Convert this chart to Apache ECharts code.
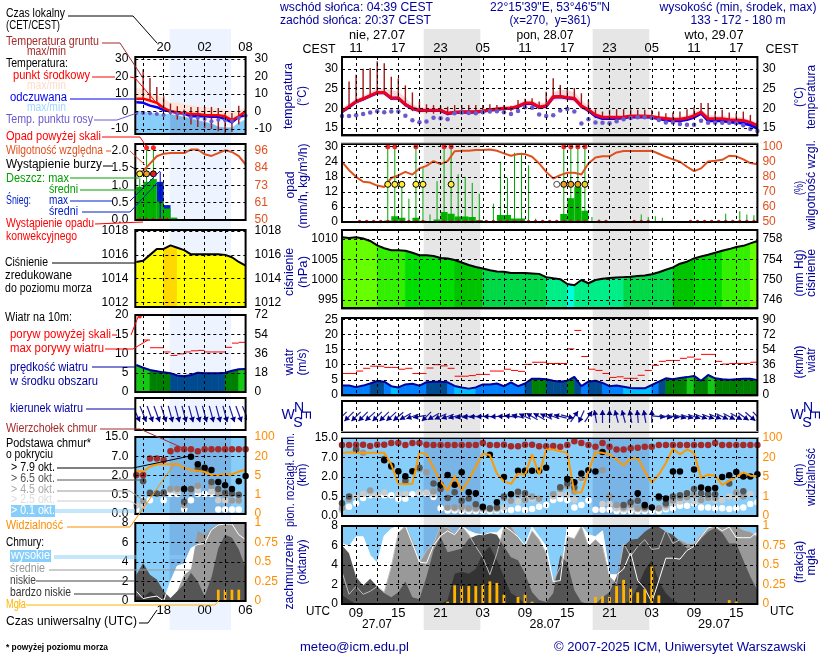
<!DOCTYPE html>
<html lang="pl">
<head>
<meta charset="UTF-8">
<title>Meteogram ICM</title>
<script src="https://cdn.jsdelivr.net/npm/echarts@6/dist/echarts.min.js"></script>
<style>html,body{margin:0;padding:0;background:#fff}#main{width:820px;height:660px}</style>
</head>
<body>
<div id="main"></div>
<script>
// ---- main meteogram, hourly, index 0 = 27.07 07 UTC ----
var tempC = [19.2,20.4,21.7,22.4,23.2,24,24,22.6,22.6,21, 20,19.5,19.5,19.5,19.5,18.7,19,19.1,19.1,19.1, 19.3,19.6,19.8,20,20,20.5,21.3,21.3,20.3,20.6, 22.9,23,22.7,22.5,20.6,19.6,18.3,17.7,17.7,17.7, 17.8,18,18,18,17.9,17.6,17.4,17.2,17.2,17.5, 18.1,19,17.3,17.3,17.3,17.1,17,16.9,16.4,15.6];
var tempMax = [20.2,21.2,22.4,23.1,24,25,25,24.5,24.2,22.6, 20.9,20.3,20.1,20,20,19.6,19.5,19.4,19.4,19.4, 19.6,19.9,20.2,20.4,20.5,21.1,21.9,21.9,21.2,21.5, 24,24.7,24.5,24,22,20.6,19,18.2,18,18, 18.1,18.4,18.4,18.3,18.2,18,17.8,17.7,17.8,18.2, 18.9,19.7,18.2,18,18,17.8,17.7,17.6,17,16.2];
var tempMin = [18.7,19.8,21,21.8,22.7,23.4,23.3,22,21.9,20.3, 19.2,18.9,19,19,19,18.3,18.6,18.8,18.8,18.8, 19,19.2,19.4,19.6,19.6,20,20.7,20.6,19.7,19.9, 21.9,22.2,21.9,21.7,19.8,19,17.8,17.3,17.3,17.3, 17.4,17.6,17.6,17.6,17.5,17.2,16.9,16.7,16.7,16.9, 17.4,18.3,16.7,16.7,16.7,16.5,16.4,16.3,15.8,15];
var feelsC = [19.1,20.3,21.6,22.3,23.1,23.9,23.9,22.5,22.5,20.9, 19.9,19.4,19.4,19.4,19.4,18.6,18.9,19,19,19, 19.2,19.5,19.7,19.9,19.9,20.4,21.2,21.2,20.2,20.5, 22.8,22.9,22.6,22.4,20.5,19.4,18,17.4,17.4,17.4, 17.6,17.8,17.8,17.8,17.7,17.3,17,16.8,16.8,17.1, 17.7,18.7,16.8,16.8,16.8,16.5,16.4,16.2,15.7,14.9];
var dewC = [18.05,18.05,18.2,18.5,18.9,19.2,19,19.15,19.15,18.1, 16.95,16.45,16.6,17.55,17.45,17.2,18.7,18.9,18.8,18.7, 19,19.15,19.2,19,18.55,19.3,20.25,20.1,18.4,18, 18.2,19.4,19.8,19.15,16.1,17.2,16.4,16.3,16.2,16.7, 17.2,17.5,17.7,17.7,17.5,17,16.4,16.4,16,15.8, 15.8,16.8,16.3,16.3,16.3,16.3,16.2,15.7,14.7,14.2];
var groundMax = [null,26.8,28.5,30,30.2,31.9,31.4,28,27.6,25.8, 24,21.7,21,20.8,20.6,20.4,20.8,20.8,20.8,20.8, 20.8,21,20.8,20.8,20.6,22.1,22.4,22.5,21.7,24.2, 27.6,25.9,25.1,25.1,23.8,22.1,19.7,19.15,19.6,19.75, 19.75,19.75,19.6,19.6,19.6,19.15,18.7,18.9,19.15,19.75, 20.25,21.3,21.3,19.15,19.6,18.9,18.7,19.15,18.3,16.6];
var groundMin = [null,20,21.3,22,22.8,23.6,23.6,22.2,22.2,20.5, 19.3,18.8,18.7,18.6,18.6,18.2,18.4,18.5,18.5,18.5, 18.5,18.8,19,19.2,19.2,19.8,20.6,20.6,19.8,20, 22.3,22.5,22.2,22,20,18.9,17.5,17,17,17, 17.1,17.3,17.3,17.3,17.2,16.9,16.7,16.6,16.7,17, 17.5,18.4,16.9,16.9,16.9,16.7,16.6,16.5,16,15.3];
var humidity = [90,84.4,80,76.7,76.2,74.2,73.3,79.2,81,83.3, 81.5,85.6,87.3,90.4,88.4,90.4,97,97.3,97.3,97.8, 97.8,98.2,97.3,95.6,94,95.1,95.1,93.3,88.9,83.3, 78.9,81.1,82.7,82.7,81.6,88.9,92.9,93.6,93.6,96.2, 97.1,97.1,97.1,97.1,97.3,95.3,93.3,91.6,90,86.7, 83.8,85.6,90.2,90.7,91.3,94,93.6,91.6,89.1,88.4];
// precipitation is per hour interval, so 59 values
var rainMax = [0,0,0,0,0,0,30,30,14.7,9.3, 30,21.6,3,16.3,30,30,19,18,15.6,11.3, 0,7.3,24,17.6,27.6,27.6,22.6,1.3,0,0, 0,30,30,30,30,2,1,0,0,0, 0,0,3,2,2.3,1.7,0,0,0,0, 0,0,0,0,3.3,.8,4.3,3,2.7];
var rainMean = [0,0,0,0,0,0,.6,2.3,1.7,.3, 1.7,.5,.1,1,4,3.3,2.2,2.2,2,.8, .3,.1,2.8,2.8,1.4,1.4,.2,0,0,0, 0,3.2,9.5,14,4.5,.2,.1,0,0,0, 0,0,.1,.1,.1,.1,0,0,0,0, 0,0,0,0,.4,.4,.4,.2,.1];
var convective = [2,3,4,5,6,7,8,9,10,11,14,15,16,17,18,19,20,21,22,23,24,25,26,27,28,29,30,31,32,33,34,36,37,41,42,43,49,50,51,52,53,54,55,56,57,58];
var stormHours = [6,7,8,10,11,15,30,31,32,33,34];
var stormChance = [1,1,1,1,1,1,0,.6,.6,.6,.8];
var pressure = [1010.4,1010.25,1010.4,1010.1,1009.5,1008.4,1007.7,1007.2,1007.2,1007.1, 1006.6,1006,1006,1005.8,1005.3,1005.2,1004.8,1004.2,1003.6,1003.1, 1002.7,1002.3,1002,1001.9,1001.6,1001.6,1001.6,1001.5,1001.4,1000.6, 1000.3,1000.1,998.9,998.6,999.9,999.1,999.9,1000.2,1000.4,1000.5, 1000.6,1000.7,1000.9,1001,1001.3,1001.8,1002.4,1003,1003.9,1004.4, 1005.2,1005.7,1006.1,1006.6,1007.1,1007.5,1008,1008.3,1008.9,1009.5];
var windSpeed = [3.1,3.1,2.6,3.1,3.8,4.6,4.4,2.9,2.5,3.5, 3.7,3.1,4.2,4.4,4.4,4.2,3,2.5,2.1,2.5, 3.5,3.5,3.8,2.9,4.2,2.9,3.8,5.4,5.4,5.2, 4.7,4.4,4.7,6,2.9,4.4,4.7,4,2.9,3.1, 2.7,2.3,2.2,2.2,3.3,4.4,5.5,5.2,5.6,5.9, 6.3,4.7,6.6,5.5,5.2,5,5.2,5.4,5.4,4.9];
var windGust = [7.1,7.1,7.9,8.8,9.5,9.5,9.1,9.1,8.5,8.8, 7.1,7.1,8.9,10,9.6,8.8,6.2,6.2,6.4,6.8, 6.8,7.9,7.9,8.5,8.1,7.8,10.1,10.8,10.8,10.4, 10.4,10.4,15.2,21.3,12.7,8.5,8.1,7.1,5.8,6, 5.5,5.5,6.5,8.1,9.8,11.1,11.4,11.4,12.1,12.5, 11.8,13.4,13.4,11.1,10.2,10.4,10.4,10.4,10.8];
var windHeading = [225,225,225,225,228,225,225,228,230,240, 250,260,225,240,245,250,255,258,262,265, 268,270,268,272,278,285,295,300,300,295, 290,285,105,35,205,35,350,0,0,345, 345,350,355,350,0,95,100,100,105,105, 108,110,110,112,115,118,120,125,130,135];
var visibility = [38,42,39,39,39,39,39,14.6,3.6,3.5, 3.6,42,33,12,4.1,2.2,6,2.2,4.4,13, 36,30,7.6,4.1,3.6,7.6,6.8,33,6.8,53, 53,46,39,1.8,1.8,9.4,42,39,33,18.5, 13.8,19.5,19.7,9.4,3.8,6.8,15.8,56,33,53, 39,4.8,6.8,6,3.4,4.2,5,8.6,6,5.5];
var cloudTop = [12.1,12.1,12.2,12.2,11.7,12.2,12.2,12.9,12.9,12.1, 12.9,12.9,12.2,12.1,12.1,12.1,12.1,12.1,12.1,12.1, 12.9,12.1,12.1,12.2,11.6,11.6,12.2,12.2,11.6,11.6, 11.7,11.4,12.1,13.7,12.9,12.1,11.4,12.9,11.4,10.3, 10.3,10.8,11,11.4,11.4,12.1,12.1,12.1,12.1,12.1, 12.1,12.1,12.1,12.9,12.1,12.1,12.1,12.1,12.1,12.1];
var baseBlack = [[6,6.3],[7,4.9],[8,3.5],[9,2.2],[10,3.5],[14,1.4],[15,2.5],[16,1.4],[17,3.2],[18,.83],[19,.75],[20,.24],[21,8.1],[22,.35],[23,2],[24,.68],[25,3.6],[26,3.6],[27,3.6],[28,3.6],[29,4.4],[32,1.85],[33,1.6],[34,2.9],[35,3.7],[36,3.4],[37,9.3],[42,.75],[43,.28],[44,.22],[45,.5],[46,.45],[47,3.4],[48,3.4],[50,3.9],[51,1.2],[52,1.07],[53,1.15],[54,2],[55,2.45],[56,3.3],[57,2.15],[58,2.15],[59,2.7]];
var baseDark = [[0,.33],[1,.5],[2,10.3],[6,6.6],[7,4.6],[9,1.7],[11,4.35],[13,1.5],[14,1.07],[15,.46],[16,.83],[17,.39],[18,.45],[19,.3],[20,.22],[21,.2],[22,.22],[23,.5],[25,.86],[26,.75],[31,1.22],[32,1.5],[33,1.22],[40,.28],[41,.35],[42,.39],[43,.24],[45,.46],[46,.33],[47,.5],[48,.6],[49,.75],[50,1.07],[51,.75],[52,.68],[53,.68],[55,1.5],[57,.9]];
var baseGray = [[0,.2],[1,.43],[2,10],[3,8.9],[4,.97],[6,6.6],[9,1.85],[11,4],[12,3.2],[13,.89],[15,.22],[16,.22],[17,.23],[18,.2],[19,.2],[20,.2],[21,.18],[22,.2],[23,.46],[24,.39],[25,.63],[26,.41],[27,.5],[28,.44],[30,.68],[31,1.07],[32,1.3],[33,.89],[34,1.92],[37,3.7],[38,.5],[39,.28],[40,.22],[41,.28],[42,.2],[43,.2],[45,.2],[46,.28],[47,.4],[48,.46],[49,.48],[50,.63],[51,.41],[52,.46],[53,.46],[56,.8],[57,.5]];
var baseLight = [[0,.15],[2,.5],[3,.7],[4,.75],[5,.63],[6,.8],[8,.7],[9,.7],[11,.8],[12,.8],[13,.63],[15,.22],[16,.19],[17,.18],[18,.17],[19,.17],[20,.17],[21,.17],[22,.17],[23,.22],[24,.39],[25,.37],[26,.46],[27,.43],[28,.43],[30,.5],[31,.68],[32,.63],[33,.41],[34,1.85],[37,.31],[38,.31],[39,.2],[40,.17],[41,.2],[42,.17],[43,.17],[45,.2],[46,.22],[47,.33],[48,.37],[49,.44],[50,.37],[51,.4],[52,.44],[53,.41],[54,.41],[55,.5],[56,.46],[58,.7]];
var baseWhite = [[1,.24],[2,.33],[3,.46],[4,.6],[5,.6],[6,.6],[7,.6],[8,.44],[9,.44],[10,.68],[11,.75],[12,.75],[13,.49],[14,.2],[15,.14],[16,.14],[17,.13],[18,.13],[19,.13],[20,.14],[21,.13],[22,.14],[23,.155],[24,.155],[25,.19],[26,.155],[27,.18],[28,.24],[29,.28],[30,.41],[31,.44],[32,.41],[33,.22],[34,.28],[35,.4],[36,.16],[37,.16],[38,.16],[39,.13],[40,.13],[41,.13],[42,.13],[43,.13],[44,.13],[45,.13],[46,.17],[47,.2],[48,.26],[49,.26],[50,.33],[51,.22],[52,.22],[53,.2],[54,.2],[55,.18],[56,.2],[57,.22],[58,.31],[59,.35]];
var coverHigh = [6.2,5.9,6.9,6.9,5,4.2,7,7.7,8,8, 6.2,4.3,4.2,6,7,7.5,7.1,8,7.5,7.2, 7.1,7.3,7.3,8,7.5,6.9,6,7.9,6.9,5.9, 2.3,2.4,7.9,8,8,7.1,6.9,7.5,3,3, 3.6,5.3,2.4,1.6,.2,2.4,4.7,4.7,4.6,5.5, 5.9,6.9,7.8,8,7.5,7.9,6.8,6.8,6.8,7.4];
var coverMid = [3.3,1,1.8,1,1.3,1.8,1.2,3.8,7.3,8, 6.6,4.2,5.5,6.2,8,7.8,7.3,8,7.1,5.9, 4.8,3,5.2,7.9,8,6.9,6,7.5,6.6,5.2, 2.3,3.8,6.9,6.7,8,5.9,6.6,5.9,2.8,2.1, 6.2,4.9,5.9,6.6,5.6,5.7,7.6,6.2,6.6,6.2, 6.2,7.1,7.8,8,8,8,8,7.6,7.4,6.9];
var coverLow = [6,5.2,2.8,1.9,2.6,1.8,1.1,.7,1.2,2.3, .7,.5,2.8,5.5,6.9,5.3,5.5,5.7,6.7,7, 7.2,7.3,7.1,5.9,4.8,4.5,3.1,1.2,.4,.2, 1.1,5,4.2,1.4,.2,0,0,.7,1.2,2.8, 5.9,6.6,6.7,7.4,7.9,7.9,7.4,7.1,6.4,5.7, 5.9,6.7,7.4,7.8,7.3,6.2,6.2,4.5,2.8,1.4];
var coverVeryLow = [.9,.4,0,0,0,0,0,0,0,0, 0,0,0,0,0,.4,3.1,3.3,3.1,3.6, 5.2,5.9,4.5,2.8,1.1,.7,0,0,0,0, 0,0,0,0,0,0,0,0,0,0, 0,.4,1.8,3.5,4.5,2.3,1.1,.4,0,0, 0,0,0,0,0,0,0,0,0,0];
var fog = [[15,.03],[16,.24],[17,.23],[18,.23],[19,.23],[20,.25],[21,.29],[22,.27],[23,.12],[25,.09],[26,.12],[27,.03],[36,.09],[37,.1],[38,.09],[39,.23],[40,.31],[41,.2],[42,.15],[43,.19],[44,.48],[45,.11],[55,.05],[56,.03]];

// ---- small legend meteogram, hourly, index 0 = 26.07 14 UTC ----
var lTemp = [7.2,7.2,6.1,4.8,1.9,0,-.6,-1,-1.5,-1.5,-2.1,-2.3,-2.3,-2.9,-5.1,-2.9,0];
var lFeels = [5.1,4.8,3.2,2.3,.6,0,-1,-1.3,-2.9,-2.9,-2.9,-3.2,-3.2,-4.4,-6.3,-3.2,-2.3];
var lTempMax = [13.3,12.4,10.5,9.1,7.2,4.8,4.8,4.2,3.2,2.9,2.3,1.7,1.5,1,0,.4,1.9];
var lTempMin = [5,4.8,3.2,2.3,.6,-.5,-1,-1.3,-2.9,-2.9,-2.9,-3.2,-3.2,-4.4,-6.3,-3.2,-2.3];
var lFeelsMax = [0,-.3,-1,-1.5,-1.8,-1.9,-2.5,-3.4,-4.4,-5.3,-6.3,-7.2,-9,-9.5,-9.5,-6.7,-4.8];
var lDew = [-1,-1,-1.2,-1.5,-2.1,-.6,-1.5,-1.5,-3.4,-3.8,-4.4,-5.7,-4.8,-5.1,-5.5,-3.8,-2.5];
var lGroundMax = [null,23.8,19,13.9,8.6,4.4,2.9,1,2.5,2.5,2.5,2.5,1.9,-1,-1,3.2,null];
var lGroundMin = [null,6.7,5.7,4.4,1.9,-1.9,-4.8,-4.4,-7.6,-9,-9.5,-10.1,-11.4,-12.4,-11.8,-7.6,null];
var lHumidity = [80.8,82.6,87.4,92.3,94,94.4,94.4,94.4,96.7,96.7,93.6,92.5,94.4,96.2,95.1,92.3,86.8];
var lRainMean = [.96,1.1,1.18,.53,.33,.07];
var lRainMax = [1.2,2.15,2.15];
var lSnowTop = [0,0,0,1.1,.43,0];
var lSnowMax = 1.39;
var lPressure = [1015.4,1015.5,1016,1016.5,1016.5,1016.8,1016.6,1016.4,1016.05,1016.05,1016.05,1016.05,1016.05,1016,1015.8,1015.4,1015.1];
var lWind = [7,6.3,5.7,5.4,5.1,4.9,4.3,4.1,4.4,5,4.9,4.9,4.9,5,5.5,5.9,6];
var lGust = [null,13.5,11.5,11.5,10.4,9.5,9.9,10.4,10.7,10.8,10.4,10.4,10.4,11.6,12.7,12.9];
var lHeading = [155,158,160,160,162,165,165,165,165,165,165,165,165,165,162,160,158];
var lVisibility = [8.3,8.3,11.8,13.8,13.8,13.8,13.8,11,9.2,8.6,7.9,5.3,5.3,6,6,7.9,9.7];
var lCloudTop = [2.1,2.1,6.4,6.4,6,9.1,9.9,9.9,9.9,9.1,9.9,9.9,9.9,9.9,9.9,9.9,9.9];
var lBlack = [[7,.94],[8,6.9],[9,4.9],[10,4],[11,3.4],[12,1.5],[13,1.25],[14,.94],[15,1.56],[16,1.97]];
var lDark = [[1,1.56],[2,.65],[3,.6],[4,.68],[7,.32],[8,.94],[9,3.8],[10,3.4],[11,1.5],[12,.94],[13,.65],[14,.6],[15,.5]];
var lGray = [[1,.34],[2,.6],[3,.58],[4,.58],[5,.94],[6,.94],[7,.23],[8,.85],[9,1.2],[11,1.2],[12,.6],[13,.5],[14,.35],[15,.35]];
var lLight = [[0,.22],[1,.23],[5,.85],[6,.75],[9,.85],[11,.75],[12,.36],[13,.35],[14,.35],[15,.36]];
var lWhite = [[0,.12],[1,.36],[2,.36],[4,.36],[5,.55],[6,.55],[7,.13],[8,.36],[9,.55],[10,.55],[11,.55],[12,.12],[13,.12],[14,.12],[15,.12]];
var lHigh = [1,.25,.4,.5,0,2,3.6,3.8,5.4,5.8,5.9,7.3,7.8,7.9,7.9,6.8,6.3];
var lMid = [0,0,0,0,0,0,1,2.7,3.2,7.2,6.8,7.5,7.9,8,8,8,8];
var lLow = [2.7,3.9,2.7,2.2,1,.3,1,1.7,2.9,2,.5,2.4,5.4,6.8,6.5,5.3,3.4];
var lVeryLow = [.5,.3,1,.5,0,0,0,0,0,0,0,0,0,0,0,0,0];
var lFog = [[12,.145],[13,.145],[14,.145],[15,.145]];

// axis ticks
var heightTicks = [0,.5,2,7,15];
var visTicks = [0,1,5,20,100];
var fogTicks = ['0','0.25','0.5','0.75','1'];
var nightMain = [[11.6,19.65],[35.6,43.65]];
var nightSide = [[18.87,27.87]];

var FONT = '12px "Liberation Sans", Arial, sans-serif';
var NAVY = '#00009c', OR = '#e0501e', VIS = '#ff8c00', SKY = '#87cefa', SKY2 = '#78b4e6';

var grids = [], xAxes = [], yAxes = [], series = [], gfx = [];
var measure = document.createElement('canvas').getContext('2d');

// band index on the 5 tick quasi-log scale
function toBand(v, ticks) {
    for (var k = 0; k < 4; k++) {
        if (v <= ticks[k + 1]) return k + (v - ticks[k]) / (ticks[k + 1] - ticks[k]);
    }
    return 4;
}
function pad(n) { return (n < 10 ? '0' : '') + n; }
function yAx(gi, c, right) {
    var o = {
        gridIndex: gi, type: 'value', position: right ? 'right' : 'left', silent: true, z: 25,
        min: c.min, max: c.max,
        axisLine: {show: false},
        axisTick: {show: false, customValues: c.ticks},
        splitLine: {show: !right && !!c.ticks, lineStyle: {color: '#000', type: [3, 3], width: 1}},
        axisLabel: {show: !!c.ticks, customValues: c.ticks, color: c.color || '#000', fontSize: 12, fontFamily: 'Liberation Sans',
            margin: c.margin, formatter: c.fmt}
    };
    yAxes.push(o);
    return yAxes.length - 1;
}
function panel(side, top, bottom, yl, yr, xl) {
    var gi = grids.length;
    grids.push({show: true, left: side.left, width: side.width, top: top, height: bottom - top, backgroundColor: 'transparent', borderColor: '#000', borderWidth: 2, z: 30});
    xAxes.push({
        gridIndex: gi, type: 'value', min: side.min, max: side.max, silent: true, z: 25,
        position: xl ? xl.pos : 'bottom',
        axisLine: {show: false, onZero: false},
        axisTick: {show: false, customValues: side.splits},
        splitLine: {show: true, lineStyle: {color: '#000', type: [3, 3], width: 1}},
        axisLabel: xl ? {show: true, customValues: side.labels, color: '#000', fontSize: 13, fontFamily: 'Liberation Sans', margin: xl.margin, formatter: xl.fmt} : {show: false}
    });
    yl = yl || {min: 0, max: 1};
    yr = yr || {min: yl.min, max: yl.max};
    return {x: xAxes.length - 1, y: yAx(gi, Object.assign({margin: side.ml}, yl), false), r: yAx(gi, Object.assign({margin: side.mr}, yr), true)};
}
function base(p, right, z) {
    return {xAxisIndex: p.x, yAxisIndex: right ? p.r : p.y, z: z, silent: true, animation: false};
}
function addLine(p, data, color, w, z, right) {
    series.push(Object.assign(base(p, right, z), {type: 'line', data: data, symbol: 'none', lineStyle: {color: color, width: w}}));
}
function addArea(p, data, color, z) {
    series.push(Object.assign(base(p, false, z), {type: 'line', data: data, symbol: 'none', lineStyle: {width: 0}, areaStyle: {color: color, opacity: 1, origin: 'start'}}));
}
function addDots(p, data, color, size, z, right, border) {
    series.push(Object.assign(base(p, right, z), {type: 'scatter', data: data, symbol: 'circle', symbolSize: size, itemStyle: {color: color, borderColor: border || color, borderWidth: border ? 1 : 0, opacity: 1}}));
}
function addCustom(p, data, fn, z, right) {
    series.push(Object.assign(base(p, right, z), {type: 'custom', data: data, clip: true, renderItem: fn}));
}
// filled rectangle between two x values and the whole height of the panel
function fullRect(color) {
    return function (params, api) {
        var cs = params.coordSys;
        var a = api.coord([api.value(0), 0])[0], b = api.coord([api.value(1), 0])[0];
        return {type: 'rect', shape: {x: a, y: cs.y, width: b - a, height: cs.height}, style: {fill: color}};
    };
}
function wholePanel(color) {
    return function (params) {
        var cs = params.coordSys;
        return {type: 'rect', shape: {x: cs.x, y: cs.y, width: cs.width, height: cs.height}, style: {fill: color}};
    };
}
// vertical stroke: [x, lo, hi]
function vStroke(color, w) {
    return function (params, api) {
        var a = api.coord([api.value(0), api.value(1)]), b = api.coord([api.value(0), api.value(2)]);
        return {type: 'line', shape: {x1: a[0], y1: a[1], x2: b[0], y2: b[1]}, style: {stroke: color, lineWidth: w}};
    };
}
// horizontal stroke: [x0, x1, y]
function hStroke(color, w) {
    return function (params, api) {
        var a = api.coord([api.value(0), api.value(2)]), b = api.coord([api.value(1), api.value(2)]);
        return {type: 'line', shape: {x1: a[0], y1: a[1], x2: b[0], y2: b[1]}, style: {stroke: color, lineWidth: w}};
    };
}
// bar: [x0, x1, y]
function barRect(color) {
    return function (params, api) {
        var a = api.coord([api.value(0), api.value(2)]), b = api.coord([api.value(1), 0]);
        return {type: 'rect', shape: {x: a[0], y: a[1], width: b[0] - a[0], height: b[1] - a[1]}, style: {fill: color}};
    };
}
// polygon down to the panel bottom, colored by segment: [x, v0, v1]
function segFill(pal) {
    return function (params, api) {
        var x = api.value(0), cs = params.coordSys, v0 = api.value(1), v1 = api.value(2);
        var a = api.coord([x, v0]), b = api.coord([x + 1, v1]), bot = cs.y + cs.height;
        var c = pal((v0 + v1) / 2, x);
        return {type: 'polygon', shape: {points: [[a[0], bot], a, b, [b[0], bot]]}, style: {fill: c, stroke: c, lineWidth: .7}};
    };
}
// band between two curves: [x, hi0, lo0, hi1, lo1]
function bandFill(color) {
    return function (params, api) {
        var x = api.value(0);
        var p = [api.coord([x, api.value(1)]), api.coord([x + 1, api.value(3)]), api.coord([x + 1, api.value(4)]), api.coord([x, api.value(2)])];
        return {type: 'polygon', shape: {points: p}, style: {fill: color, stroke: color, lineWidth: .5}};
    };
}
// wind arrow: [x, heading]
function arrow(len) {
    return function (params, api) {
        var h = api.value(1) * Math.PI / 180, c = api.coord([api.value(0), .5]);
        var dx = Math.sin(h), dy = -Math.cos(h);
        var t = [c[0] - dx * len / 2, c[1] - dy * len / 2], e = [c[0] + dx * len / 2, c[1] + dy * len / 2];
        var s = 5, n = 3;
        return {type: 'group', children: [
            {type: 'line', shape: {x1: t[0], y1: t[1], x2: e[0], y2: e[1]}, style: {stroke: '#1c1ca0', lineWidth: 1.2}},
            {type: 'polygon', shape: {points: [e, [e[0] - dx * s - dy * n, e[1] - dy * s + dx * n], [e[0] - dx * s + dy * n, e[1] - dy * s - dx * n]]}, style: {fill: '#00008b', stroke: null}}
        ]};
    };
}
function xy(arr, x0) { return arr.map(function (v, i) { return [x0 + i, v]; }); }
function segs(arr, x0) {
    var r = [];
    for (var i = 0; i < arr.length - 1; i++) r.push([x0 + i, arr[i], arr[i + 1]]);
    return r;
}
function bands(hi, lo, x0) {
    var r = [];
    for (var i = 0; i < hi.length - 1; i++) r.push([x0 + i, hi[i], lo[i], hi[i + 1], lo[i + 1]]);
    return r;
}
function pairs(list, x0, ticks) {
    return list.map(function (d) { return [x0 + d[0], toBand(d[1], ticks)]; });
}
function palPressure(v) {
    if (v >= 1008.7) return '#66ff00';
    if (v >= 1006.9) return '#33f000';
    if (v >= 1005) return '#00dd00';
    if (v >= 1002.9) return '#00c400';
    if (v >= 1000.65) return '#00d848';
    if (v >= 999) return '#00ee88';
    return '#00ffe0';
}
function palWind(v) {
    if (v < 2.8) return '#00bfff';
    if (v < 4.1) return '#0080ff';
    if (v < 5) return '#004a90';
    if (v < 5.9) return '#008000';
    return '#14c814';
}
function stormColor(c) { return c >= 1 ? '#ffee33' : (c >= .8 ? '#f0d020' : (c > 0 ? '#f0a020' : '#ffffff')); }

// ---- layout ----
var sideMain = {left: 342, width: 415.4, min: 0, max: 59, ml: 4, mr: 5, splits: [2,5,8,11,14,17,20,23,26,29,32,35,38,41,44,47,50,53,56], labels: [2,8,14,20,26,32,38,44,50,56]};
var sideSmall = {left: 135.3, width: 110.3, min: 13.85, max: 30, ml: 7, mr: 9, splits: [15,18,21,24,27], labels: [18,24,30]};

// night backdrop, behind everything
function backdrop(side, nights, color) {
    var gi = grids.length;
    grids.push({show: false, left: side.left, width: side.width, top: 29, height: 601});
    xAxes.push({gridIndex: gi, type: 'value', min: side.min, max: side.max, show: false});
    yAxes.push({gridIndex: gi, type: 'value', min: 0, max: 1, show: false});
    series.push({type: 'custom', xAxisIndex: xAxes.length - 1, yAxisIndex: yAxes.length - 1, z: 0, silent: true, animation: false, data: nights, renderItem: fullRect(color)});
}
backdrop(sideMain, nightMain, '#e6e6e6');
backdrop(sideSmall, nightSide, '#eef4ff');

// ---- main panels ----
function numFmt(v) { return String(v); }
var mTemp = panel(sideMain, 57, 135, {min: 13.2, max: 33, ticks: [15,20,25,30], fmt: numFmt}, {min: 13.2, max: 33, ticks: [15,20,25,30], fmt: numFmt},
    {pos: 'top', margin: 2, fmt: function (v) { return pad((7 + v + 2) % 24); }});
addCustom(mTemp, bands(tempMax, tempMin, 0), bandFill('#f8d8dc'), 2);
addCustom(mTemp, groundMax.map(function (v, i) { return [i, groundMin[i], v]; }).filter(function (d) { return d[2] != null; }), vStroke('#a01818', 1.4), 3);
addLine(mTemp, xy(feelsC, 0), '#0000ff', 3, 4);
addLine(mTemp, xy(tempC, 0), '#f00020', 3, 5);
addDots(mTemp, xy(dewC, 0), '#6a5acd', 4.5, 6);

var mRain = panel(sideMain, 144, 222, {min: 0, max: 31.08, ticks: [0,6,12,18,24,30], fmt: numFmt}, {min: 50, max: 101.8, ticks: [50,60,70,80,90,100], fmt: numFmt, color: OR});
addCustom(mRain, rainMean.map(function (v, i) { return [i, i + 1, v]; }).filter(function (d) { return d[2] > 0; }), barRect('#00b400'), 2);
addCustom(mRain, rainMax.map(function (v, i) { return [i + .5, 0, v]; }).filter(function (d) { return d[2] > 0; }), vStroke('#00a800', 1), 3);
addDots(mRain, rainMax.map(function (v, i) { return [i + .5, v]; }).filter(function (d) { return d[1] >= 30; }), '#ff2020', 5, 6);
addDots(mRain, convective.map(function (i) { return [i + .5, 0.2]; }), '#e01010', 3.5, 4);
addLine(mRain, xy(humidity, 0), OR, 2, 5, true);
stormHours.forEach(function (h, k) {
    addDots(mRain, [[h + .5, 15]], stormColor(stormChance[k]), 6, 7, false, stormChance[k] > 0 ? '#000' : '#444');
});

var mPress = panel(sideMain, 230, 308, {min: 993, max: 1012.2, ticks: [995,1000,1005,1010], fmt: numFmt}, {min: 744.43, max: 759.77, ticks: [746,750,754,758], fmt: numFmt});
addCustom(mPress, segs(pressure, 0), segFill(palPressure), 2);
addLine(mPress, xy(pressure, 0), '#000', 2, 3);

var mWind = panel(sideMain, 318, 395, {min: 0, max: 25.4, ticks: [0,5,10,15,20,25], fmt: numFmt}, {min: 0, max: 91.44, ticks: [0,18,36,54,72,90], fmt: numFmt});
addCustom(mWind, segs(windSpeed, 0), segFill(palWind), 2);
addLine(mWind, xy(windSpeed, 0), '#0000a0', 2, 3);
addCustom(mWind, windGust.map(function (v, i) { return [i, i + 1, v]; }), hStroke('#ff0000', 1), 4);

var mDir = panel(sideMain, 401, 432);
addCustom(mDir, xy(windHeading, 0), arrow(13), 3);

var mBase = panel(sideMain, 438, 516, {min: 0, max: 4, ticks: [0,1,2,3,4], fmt: function (v) { return heightTicks[v].toFixed(1); }},
    {min: 0, max: 4, ticks: [0,1,2,3,4], color: VIS, fmt: function (v) { return String(visTicks[v]); }});
addCustom(mBase, [0], wholePanel(SKY), 1);
addCustom(mBase, nightMain, fullRect(SKY2), 1);
addDots(mBase, pairs(baseWhite, 0, heightTicks), '#ffffff', 6.5, 3);
addDots(mBase, pairs(baseLight, 0, heightTicks), '#cccccc', 6.5, 4);
addDots(mBase, pairs(baseGray, 0, heightTicks), '#999999', 6.5, 5);
addDots(mBase, pairs(baseDark, 0, heightTicks), '#555555', 6.5, 6);
addDots(mBase, pairs(baseBlack, 0, heightTicks), '#000000', 6.5, 7);
addDots(mBase, xy(cloudTop.map(function (v) { return toBand(v, heightTicks); }), 0), '#a52a2a', 6.5, 8);
addLine(mBase, xy(visibility.map(function (v) { return toBand(v, visTicks); }), 0), '#ff9900', 2, 9);

var mCover = panel(sideMain, 526, 604, {min: 0, max: 8, ticks: [0,2,4,6,8], fmt: numFmt},
    {min: 0, max: 1, ticks: [0,.25,.5,.75,1], color: VIS, fmt: function (v) { return fogTicks[v * 4]; }},
    {pos: 'bottom', margin: 3, fmt: function (v) { return pad((7 + v) % 24); }});
addCustom(mCover, [0], wholePanel(SKY), 1);
addCustom(mCover, nightMain, fullRect(SKY2), 1);
addArea(mCover, xy(coverHigh, 0), '#ffffff', 2);
addArea(mCover, xy(coverMid, 0), '#999999', 3);
addArea(mCover, xy(coverLow, 0), '#555555', 4);
addArea(mCover, xy(coverVeryLow, 0), '#333333', 5);
addLine(mCover, xy(coverMid, 0), '#bbbbbb', 1, 6);
addLine(mCover, xy(coverHigh, 0), '#ffffff', 1, 7);
addCustom(mCover, fog.map(function (d) { return [d[0] - .2, d[0] + .2, d[1]]; }), barRect('#ffb400'), 8, true);

// ---- legend panels ----
var sTemp = panel(sideSmall, 57, 134, {min: -13, max: 31, ticks: [-10,0,10,20,30], fmt: numFmt}, {min: -13, max: 31, ticks: [-10,0,10,20,30], fmt: numFmt},
    {pos: 'top', margin: 3, fmt: function (v) { return pad((v + 2) % 24); }});
addCustom(sTemp, segs(lFeelsMax, 14), segFill(function (v, x) { return x >= 19 && x < 28 ? SKY2 : SKY; }), 2);
addCustom(sTemp, bands(lTempMax, lTempMin, 14), bandFill('#ffe4d8'), 3);
addCustom(sTemp, lGroundMax.map(function (v, i) { return [14 + i, lGroundMin[i], v]; }).filter(function (d) { return d[2] != null; }), vStroke('#a01818', 1.4), 4);
addLine(sTemp, xy(lFeels, 14), '#0000ff', 2.5, 5);
addLine(sTemp, xy(lTemp, 14), '#ff0000', 2.5, 6);
addDots(sTemp, xy(lDew, 14), '#6a5acd', 4, 7);

var sRain = panel(sideSmall, 144, 220, {min: 0, max: 2.19, ticks: [0,.5,1,1.5,2], fmt: function (v) { return v.toFixed(1); }}, {min: 50, max: 100.4, ticks: [50,61.5,73,84.5,96], color: OR, fmt: function (v) { return String(Math.floor(v)); }});
addCustom(sRain, lSnowTop.map(function (v, i) { return [14 + i, 15 + i, v]; }).filter(function (d) { return d[2] > 0; }), barRect('#0020c8'), 2);
addCustom(sRain, lRainMean.map(function (v, i) { return [14 + i, 15 + i, v]; }), barRect('#00b400'), 3);
addCustom(sRain, lRainMax.map(function (v, i) { return [14.5 + i, 0, v]; }), vStroke('#00a800', 1), 4);
addCustom(sRain, [[17.5, 0, lSnowMax]], vStroke('#0000e0', 1), 4);
addDots(sRain, [[15.5, 2.08], [16.5, 2.08]], '#ff2020', 5, 6);
addDots(sRain, [[14.5, .03], [15.5, .03], [16.5, .03], [17.5, .03], [18.5, .03]], '#e01010', 3, 5);
addLine(sRain, xy(lHumidity, 14), OR, 2, 5, true);
addDots(sRain, [[14.5, 1.33]], '#ffee33', 6, 7, false, '#000');
addDots(sRain, [[15.5, 1.33]], '#f0a020', 6, 7, false, '#000');
addDots(sRain, [[16.5, 1.33]], '#e02010', 6, 7, false, '#000');

var sPress = panel(sideSmall, 230, 307, {min: 1011.6, max: 1018.1, ticks: [1012,1014,1016,1018], fmt: numFmt}, {min: 1011.6, max: 1018.1, ticks: [1012,1014,1016,1018], fmt: numFmt});
addCustom(sPress, segs(lPressure, 14), segFill(function (v) { return v >= 1016.65 ? '#ffd800' : '#ffff00'; }), 2);
addLine(sPress, xy(lPressure, 14), '#000', 2, 3);

var sWind = panel(sideSmall, 315, 392, {min: 0, max: 20, ticks: [0,5,10,15,20], fmt: numFmt}, {min: 0, max: 72, ticks: [0,18,36,54,72], fmt: numFmt});
addCustom(sWind, segs(lWind, 14), segFill(palWind), 2);
addLine(sWind, xy(lWind, 14), '#0000a0', 2, 3);
addCustom(sWind, lGust.map(function (v, i) { return [14 + i, 15 + i, v]; }).filter(function (d) { return d[2] != null; }), hStroke('#ff0000', 1), 4);
addDots(sWind, [[14.5, 19.6]], '#ff2020', 4, 5);

var sDir = panel(sideSmall, 398, 430);
addCustom(sDir, xy(lHeading, 14), arrow(17), 3);

var sBase = panel(sideSmall, 437, 514, {min: 0, max: 4, ticks: [0,1,2,3,4], fmt: function (v) { return heightTicks[v].toFixed(1); }},
    {min: 0, max: 4, ticks: [0,1,2,3,4], color: VIS, fmt: function (v) { return String(visTicks[v]); }});
addCustom(sBase, [0], wholePanel(SKY), 1);
addCustom(sBase, nightSide, fullRect(SKY2), 1);
addDots(sBase, pairs(lWhite, 14, heightTicks), '#ffffff', 6.5, 3);
addDots(sBase, pairs(lLight, 14, heightTicks), '#cccccc', 6.5, 4);
addDots(sBase, pairs(lGray, 14, heightTicks), '#999999', 6.5, 5);
addDots(sBase, pairs(lDark, 14, heightTicks), '#555555', 6.5, 6);
addDots(sBase, pairs(lBlack, 14, heightTicks), '#000000', 6.5, 7);
addDots(sBase, xy(lCloudTop.map(function (v) { return toBand(v, heightTicks); }), 14), '#a52a2a', 6.5, 8);
addLine(sBase, xy(lVisibility.map(function (v) { return toBand(v, visTicks); }), 14), '#ff9900', 2, 9);

var sCover = panel(sideSmall, 523, 601, {min: 0, max: 8, ticks: [0,2,4,6,8], fmt: numFmt},
    {min: 0, max: 1, ticks: [0,.25,.5,.75,1], color: VIS, fmt: function (v) { return fogTicks[v * 4]; }},
    {pos: 'bottom', margin: 3, fmt: function (v) { return pad(v % 24); }});
addCustom(sCover, [0], wholePanel(SKY), 1);
addCustom(sCover, nightSide, fullRect(SKY2), 1);
addArea(sCover, xy(lHigh, 14), '#ffffff', 2);
addArea(sCover, xy(lMid, 14), '#999999', 3);
addArea(sCover, xy(lLow, 14), '#555555', 4);
addArea(sCover, xy(lVeryLow, 14), '#333333', 5);
addLine(sCover, xy(lHigh, 14), '#ffffff', 1, 7);
addCustom(sCover, lFog.map(function (d) { return [14 + d[0] - .2, 14 + d[0] + .2, d[1]]; }), barRect('#ffb400'), 8, true);

// ---- texts and leader lines ----
// w = width the text has in the reference, squeezed with scaleX
function txt(x, y, s, color, w, opt) {
    opt = opt || {};
    var font = opt.font || FONT, k = 1;
    if (w) { measure.font = font; k = w / measure.measureText(s).width; }
    gfx.push({type: 'text', x: x, y: y, z: 60, silent: true, rotation: opt.rot || 0, scaleX: k, style: {
        text: s, fill: color || '#000', font: font,
        align: opt.align || 'left', textAlign: opt.align || 'left', verticalAlign: 'middle', textVerticalAlign: 'middle'}});
}
function ctxt(x, y, s, color, w) { txt(x, y, s, color, w, {align: 'center'}); }
function vtxt(x, y, s, w) { txt(x, y, s, NAVY, w, {rot: Math.PI / 2, align: 'center'}); }
function lead(pts, color, w) {
    gfx.push({type: 'polyline', z: 55, silent: true, shape: {points: pts}, style: {stroke: color, lineWidth: w || 1, fill: null}});
}
function chip(x, y, w, h, color) {
    gfx.push({type: 'rect', z: 54, silent: true, shape: {x: x, y: y, width: w, height: h}, style: {fill: color}});
}

txt(280, 8, 'wschód słońca: 04:39 CEST', NAVY, 153);
txt(280, 21, 'zachód słońca: 20:37 CEST', NAVY, 151);
ctxt(550, 8, '22°15\'39"E, 53°46\'5"N', NAVY, 120);
ctxt(550, 21, '(x=270,  y=361)', NAVY, 81);
ctxt(738, 8, 'wysokość (min, środek, max)', NAVY, 157);
ctxt(738, 21, '133 - 172 - 180 m', NAVY, 95);

ctxt(377, 36, 'nie, 27.07', '#000', 56);
ctxt(545, 36, 'pon, 28.07', '#000', 57);
ctxt(714, 36, 'wto, 29.07', '#000', 59);
ctxt(319, 50, 'CEST', '#000', 33);
ctxt(782, 50, 'CEST', '#000', 33);
ctxt(318, 612, 'UTC', '#000', 24);
ctxt(782, 612, 'UTC', '#000', 24);
ctxt(377, 625, '27.07', '#000', 30);
ctxt(545, 625, '28.07', '#000', 31);
ctxt(714, 625, '29.07', '#000', 32);

vtxt(289, 96, 'temperatura', 66); vtxt(303, 96, '(°C)', 20);
vtxt(291, 185, 'opad', 27); vtxt(304, 186, '(mm/h, kg/m³/h)', 85);
vtxt(290, 272, 'ciśnienie', 48); vtxt(304, 272, '(hPa)', 32);
vtxt(290, 362, 'wiatr', 27); vtxt(303, 362, '(m/s)', 27);
vtxt(291, 480, 'pion. rozciągł. chm.', 94); vtxt(303, 475, '(km)', 23);
vtxt(290, 572, 'zachmurzenie', 75); vtxt(303, 562, '(oktanty)', 45);
vtxt(812, 97, 'temperatura', 64); vtxt(800, 97, '(°C)', 20);
vtxt(812, 185, 'wilgotność wzgl.', 90); vtxt(800, 188, '(%)', 14);
vtxt(812, 273, 'ciśnienie', 48); vtxt(800, 273, '(mm Hg)', 47);
vtxt(812, 360, 'wiatr', 25); vtxt(800, 362, '(km/h)', 33);
vtxt(812, 477, 'widzialność', 58); vtxt(800, 475, '(km)', 23);
vtxt(812, 562, 'mgła', 27); vtxt(800, 562, '(frakcja)', 42);

var COMPASS = 'bold 0 14px "Liberation Sans"';
[0, 509].forEach(function (o) {
    var f = {font: '14px "Liberation Sans", Arial, sans-serif', align: 'center'};
    txt(299 + o, 408, 'N', NAVY, 0, f);
    txt(288 + o, 415, 'W', NAVY, 0, f);
    txt(305 + o, 415, 'E', NAVY, 0, {font: f.font, align: 'center', rot: -Math.PI / 2});
    txt(298 + o, 423, 'S', NAVY, 0, f);
});

txt(300, 648, 'meteo@icm.edu.pl', NAVY, 109);
txt(554, 648, '© 2007-2025 ICM, Uniwersytet Warszawski', NAVY, 252);
txt(6, 648, '* powyżej poziomu morza', '#000', 102, {font: 'bold 9px "Liberation Sans", Arial, sans-serif'});

// legend column
txt(6, 14, 'Czas lokalny', '#000', 59); txt(6, 26, '(CET/CEST)', '#000', 54);
lead([[68, 16], [133, 16], [157, 43]], '#000');
txt(6, 42, 'Temperatura gruntu', '#a52a2a', 93); txt(27, 52, 'max/min', '#a52a2a', 39);
lead([[102, 43], [120, 43], [143, 78]], '#a52a2a');
txt(6, 64, 'Temperatura:', '#000', 62);
txt(13, 76, 'punkt środkowy', '#ff0000', 77);
lead([[92, 77], [115, 77]], '#ff0000'); lead([[130, 77], [135, 78], [160, 107]], '#ff0000');
txt(27, 86, 'max/min', '#ffdcc8', 39);
txt(10, 98, 'odczuwana', '#0000ee', 57);
lead([[70, 99], [135, 99]], '#0000ee');
txt(27, 108, 'max/min', '#a0d8ff', 39);
txt(6, 120, 'Temp. punktu rosy', '#6a5acd', 87);
lead([[94, 120], [117, 120], [137, 113]], '#6a5acd');
txt(6, 137, 'Opad powyżej skali', '#ff0000', 95);
lead([[102, 137], [140, 137], [146, 146]], '#ff0000');
txt(6, 151, 'Wilgotność względna', OR, 97);
lead([[106, 151], [111, 151]], OR); lead([[130, 151], [145, 165]], OR);
txt(6, 165, 'Wystąpienie burzy', '#000', 96);
lead([[103, 166], [113, 166]], '#000'); lead([[130, 166], [137, 170]], '#000');
txt(6, 179, 'Deszcz: max', '#00a000', 63);
lead([[70, 178], [139, 178]], '#00a000');
txt(49, 190, 'średni', '#00a000', 29);
lead([[80, 190], [143, 190]], '#00a000');
txt(6, 201, 'Śnieg:', '#0020c8', 25); txt(49, 201, 'max', '#0020c8', 19);
lead([[70, 201], [113, 201]], '#0020c8'); lead([[130, 201], [160, 171]], '#0020c8');
txt(49, 212, 'średni', '#0020c8', 29);
lead([[82, 212], [130, 212], [157, 183]], '#0020c8');
txt(6, 224, 'Wystąpienie opadu', '#ff0000', 88); txt(6, 237, 'konwekcyjnego', '#ff0000', 71);
lead([[95, 224], [143, 222]], '#ff0000');
txt(5, 263, 'Ciśnienie', '#000', 43); txt(5, 276, 'zredukowane', '#000', 67); txt(5, 289, 'do poziomu morza', '#000', 87);
lead([[52, 263], [135, 263]], '#000');
txt(5, 318, 'Wiatr na 10m:', '#000', 67);
txt(10, 335, 'poryw powyżej skali', '#ff0000', 101);
lead([[112, 335], [117, 335]], '#ff0000'); lead([[131, 335], [138, 317]], '#ff0000');
txt(10, 349, 'max porywy wiatru', '#ff0000', 94);
lead([[105, 349], [133, 349], [148, 340]], '#ff0000');
txt(10, 368, 'prędkość wiatru', '#0000a0', 78); txt(10, 382, 'w środku obszaru', '#0000a0', 88);
lead([[92, 367], [135, 367]], '#0000a0');
txt(10, 409, 'kierunek wiatru', '#0000a0', 73);
lead([[86, 409], [135, 409]], '#0000a0');
txt(6, 429, 'Wierzchołek chmur', '#a52a2a', 91);
lead([[100, 429], [140, 429], [185, 449]], '#a52a2a');
txt(6, 444, 'Podstawa chmur*', '#000', 85); txt(6, 455, 'o pokryciu', '#000', 47);
txt(11, 468, '> 7.9 okt.', '#000', 44);
lead([[57, 468], [133, 468], [190, 456]], '#000');
txt(11, 479, '> 6.5 okt.', '#555', 44);
lead([[57, 480], [143, 480]], '#555');
txt(11, 490, '> 4.5 okt.', '#aaa', 44);
lead([[57, 491], [130, 491], [143, 500]], '#999');
txt(11, 500, '> 2.5 okt.', '#ddd', 44);
lead([[57, 501], [130, 501], [137, 505]], '#ccc');
chip(11, 505, 44, 12, SKY);
txt(11, 511, '> 0.1 okt.', '#fff', 44);
lead([[55, 510], [135, 510]], SKY); lead([[55, 512], [135, 512]], SKY);
txt(6, 526, 'Widzialność', VIS, 57);
lead([[67, 527], [130, 527], [175, 463]], VIS);
txt(6, 543, 'Chmury:', '#000', 38);
chip(10, 550, 41, 12, SKY);
txt(11, 556, 'wysokie', '#fff', 39);
lead([[54, 556], [185, 556]], SKY); lead([[54, 558], [185, 558]], SKY);
txt(10, 569, 'średnie', '#999', 35);
lead([[49, 570], [193, 570]], '#999');
txt(10, 581, 'niskie', '#444', 26);
lead([[36, 581], [135, 581]], '#444');
txt(10, 593, 'bardzo niskie', '#333', 61);
lead([[74, 594], [135, 594]], '#333');
txt(6, 605, 'Mgła', '#ffb400', 20);
lead([[26, 605], [215, 605], [219, 600]], '#ffb400');
txt(6, 622, 'Czas uniwersalny (UTC)', '#000', 131);
lead([[139, 623], [148, 623], [157, 610]], '#000');

// soft gray edge of the main panels
[135.5, 143, 308.5, 395.5, 431.5, 437.5].forEach(function (y) {
    lead([[341, y + (y > 300 && y < 400 || y === 135.5 ? 1 : 0)], [758, y + (y > 300 && y < 400 || y === 135.5 ? 1 : 0)]], '#999');
});

var chart = echarts.init(document.getElementById('main'), null, {renderer: 'canvas'});
chart.setOption({
    backgroundColor: '#ffffff',
    animation: false,
    tooltip: {show: false},
    legend: {show: false},
    grid: grids,
    xAxis: xAxes,
    yAxis: yAxes,
    series: series,
    graphic: {elements: gfx}
});
</script>
</body>
</html>
